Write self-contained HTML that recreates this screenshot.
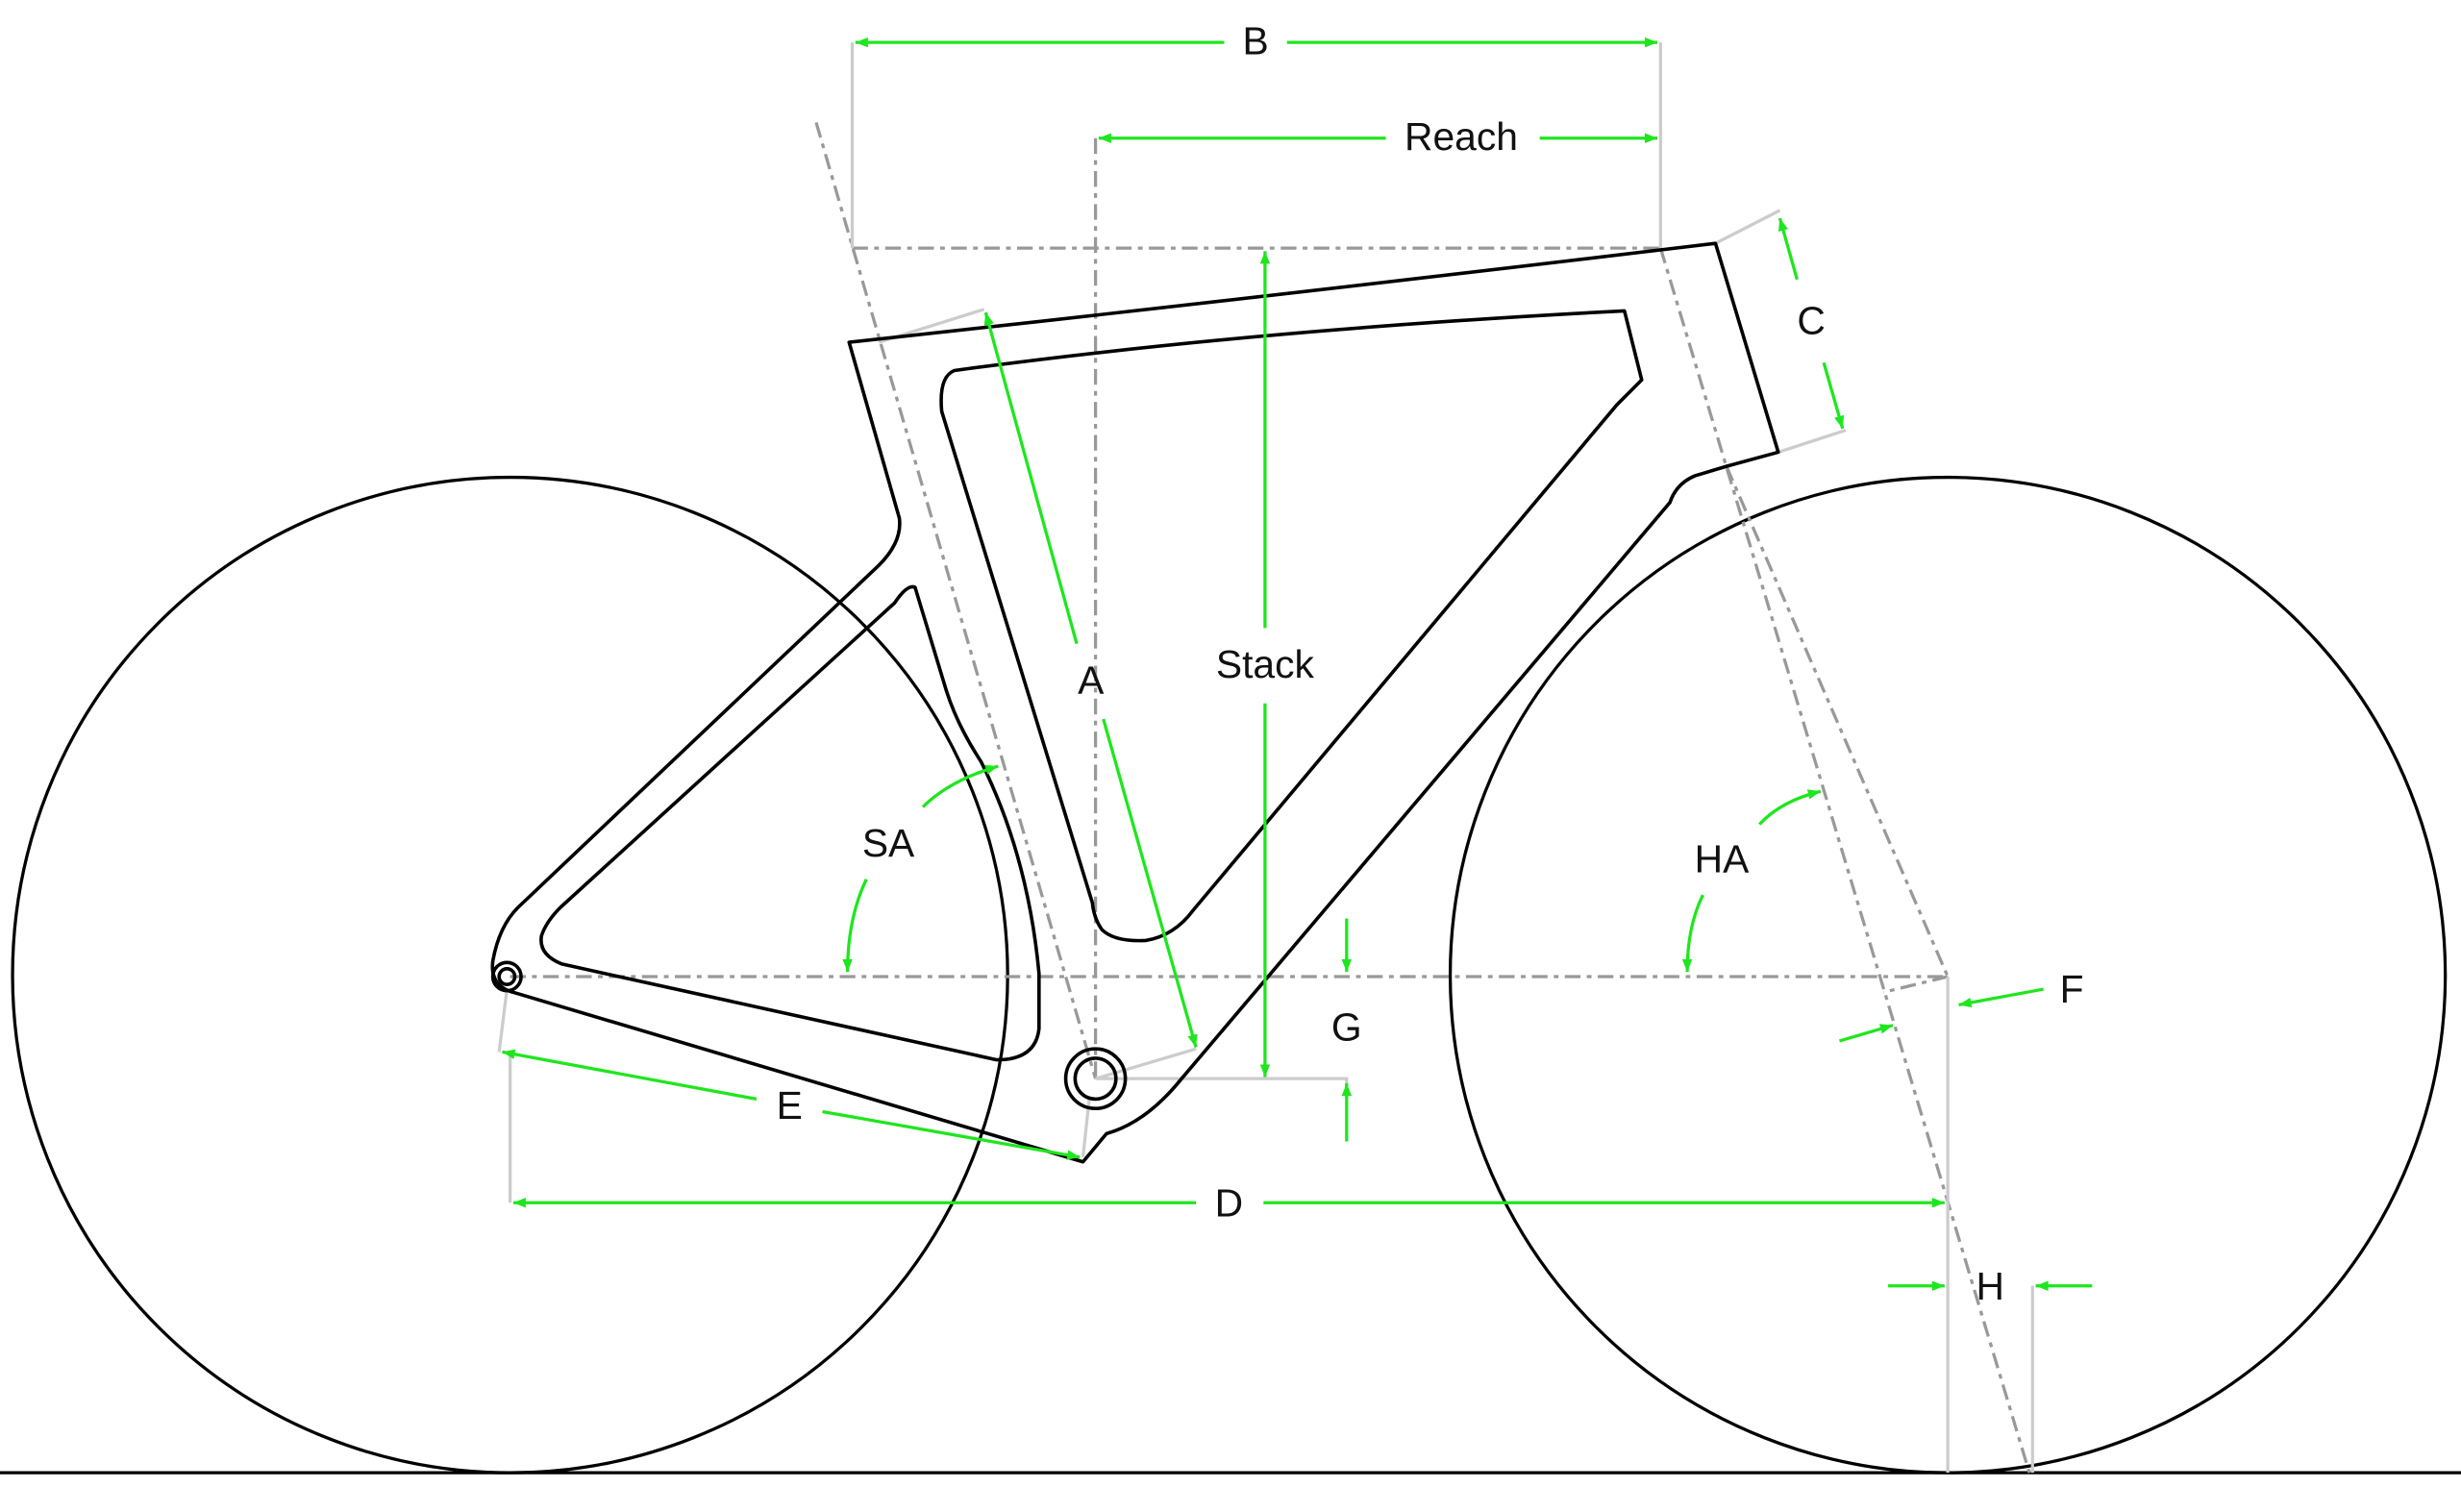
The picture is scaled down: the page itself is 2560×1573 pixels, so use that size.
<!DOCTYPE html>
<html><head><meta charset="utf-8"><style>
html,body{margin:0;padding:0;background:#fff;}
svg{display:block;}
text{font-family:"Liberation Sans",sans-serif;font-size:25px;fill:#111;text-anchor:middle;dominant-baseline:middle;}
</style></head><body>
<svg width="2560" height="1573" viewBox="0 0 1568 963" preserveAspectRatio="none" xmlns="http://www.w3.org/2000/svg">
<defs>
<marker id="ar" viewBox="0 0 10 10" refX="10" refY="5" markerWidth="10" markerHeight="8" orient="auto-start-reverse" markerUnits="userSpaceOnUse"><path d="M0,1 L10,5 L0,9 z" fill="#1ee61e"/></marker>
</defs>
<line x1="0" y1="938" x2="1568" y2="938" stroke="#000" stroke-width="2"/>
<circle cx="325" cy="621" r="317" fill="none" stroke="#000" stroke-width="2"/>
<circle cx="1241" cy="621" r="317" fill="none" stroke="#000" stroke-width="2"/>
<g stroke="#999" stroke-width="2" stroke-dasharray="10,4,3,4" fill="none">
<line x1="325" y1="622" x2="1241" y2="622"/>
<line x1="520" y1="78" x2="698" y2="687"/>
<line x1="543" y1="158" x2="1058" y2="158"/>
<line x1="698" y1="88" x2="698" y2="687"/>
<line x1="1058" y1="158" x2="1293" y2="938"/>
<line x1="1100" y1="297" x2="1241" y2="622"/>
<line x1="1241" y1="622" x2="1200" y2="632"/>
</g>
<g stroke="#ccc" stroke-width="2" fill="none">
<line x1="543" y1="27" x2="543" y2="158"/>
<line x1="1058" y1="27" x2="1058" y2="158"/>
<line x1="1093" y1="155" x2="1134" y2="134"/>
<line x1="1133" y1="288" x2="1176" y2="274"/>
<line x1="560" y1="218" x2="627" y2="197"/>
<line x1="698" y1="687" x2="762" y2="668"/>
<polyline points="698,687 858,687 858,700"/>
<line x1="323" y1="630" x2="318" y2="670"/>
<line x1="690" y1="737" x2="694" y2="700"/>
<line x1="325" y1="670" x2="325" y2="766"/>
<line x1="1241" y1="622" x2="1241" y2="938"/>
<line x1="1295" y1="819" x2="1295" y2="938"/>
</g>
<g stroke="#000" stroke-width="2.2" fill="none" stroke-linejoin="round">
<path d="M541,218 Q800,190 1093,155 L1133,288 L1100,297 L1080,303 Q1068,308 1064,320 L752,688 Q730,715 705,722 L690,740 L327,632 Q312,628 314,612 Q318,590 330,578 L560,360 Q575,345 573,330 Z"/>
<path d="M608,236 Q800,210 1035,198 L1046,242 L1030,258 L760,580 Q748,596 730,599 Q710,600 702,592 Q697,585 696,575 L600,262 Q598,240 608,236 Z"/>
<path d="M583,374 L603,440 Q610,462 625,485 Q655,545 662,620 L662,655 Q660,675 635,675 L358,614 Q343,608 345,596 Q348,587 357,578 L570,384 Q578,372 583,374 Z"/>
<circle cx="698" cy="687" r="19"/>
<circle cx="698" cy="687" r="13"/>
<circle cx="323" cy="622" r="9"/>
<circle cx="323" cy="622" r="5"/>
</g>
<g stroke="#1ee61e" stroke-width="2" fill="none">
<line x1="545" y1="27" x2="780" y2="27" marker-start="url(#ar)"/>
<line x1="820" y1="27" x2="1056" y2="27" marker-end="url(#ar)"/>
<line x1="700" y1="88" x2="883" y2="88" marker-start="url(#ar)"/>
<line x1="981" y1="88" x2="1056" y2="88" marker-end="url(#ar)"/>
<line x1="806" y1="160" x2="806" y2="400" marker-start="url(#ar)"/>
<line x1="806" y1="448" x2="806" y2="686" marker-end="url(#ar)"/>
<line x1="628" y1="199" x2="686" y2="410" marker-start="url(#ar)"/>
<line x1="703" y1="458" x2="762" y2="667" marker-end="url(#ar)"/>
<line x1="1134" y1="139" x2="1145" y2="178" marker-start="url(#ar)"/>
<line x1="1162" y1="231" x2="1174" y2="273" marker-end="url(#ar)"/>
<line x1="320" y1="670" x2="482" y2="700" marker-start="url(#ar)"/>
<line x1="524" y1="708" x2="688" y2="737" marker-end="url(#ar)"/>
<line x1="327" y1="766" x2="762" y2="766" marker-start="url(#ar)"/>
<line x1="805" y1="766" x2="1239" y2="766" marker-end="url(#ar)"/>
<line x1="858" y1="585" x2="858" y2="619" marker-end="url(#ar)"/>
<line x1="858" y1="727" x2="858" y2="690" marker-end="url(#ar)"/>
<line x1="1203" y1="819" x2="1239" y2="819" marker-end="url(#ar)"/>
<line x1="1333" y1="819" x2="1297" y2="819" marker-end="url(#ar)"/>
<line x1="1302" y1="630" x2="1248" y2="640" marker-end="url(#ar)"/>
<line x1="1172" y1="663" x2="1206" y2="653" marker-end="url(#ar)"/>
<path d="M588,514 Q605,497 636,488" marker-end="url(#ar)"/>
<path d="M552,560 Q540,585 540,619" marker-end="url(#ar)"/>
<path d="M1121,525 Q1135,510 1160,504" marker-end="url(#ar)"/>
<path d="M1085,570 Q1075,590 1075,619" marker-end="url(#ar)"/>
</g>
<text x="800" y="28">B</text>
<text x="931" y="89">Reach</text>
<text x="1154" y="206">C</text>
<text x="806" y="425">Stack</text>
<text x="695" y="435">A</text>
<text x="566" y="539">SA</text>
<text x="1097" y="549">HA</text>
<text x="1320" y="632">F</text>
<text x="858" y="656">G</text>
<text x="503" y="706">E</text>
<text x="783" y="768">D</text>
<text x="1268" y="821">H</text>
</svg>
</body></html>
